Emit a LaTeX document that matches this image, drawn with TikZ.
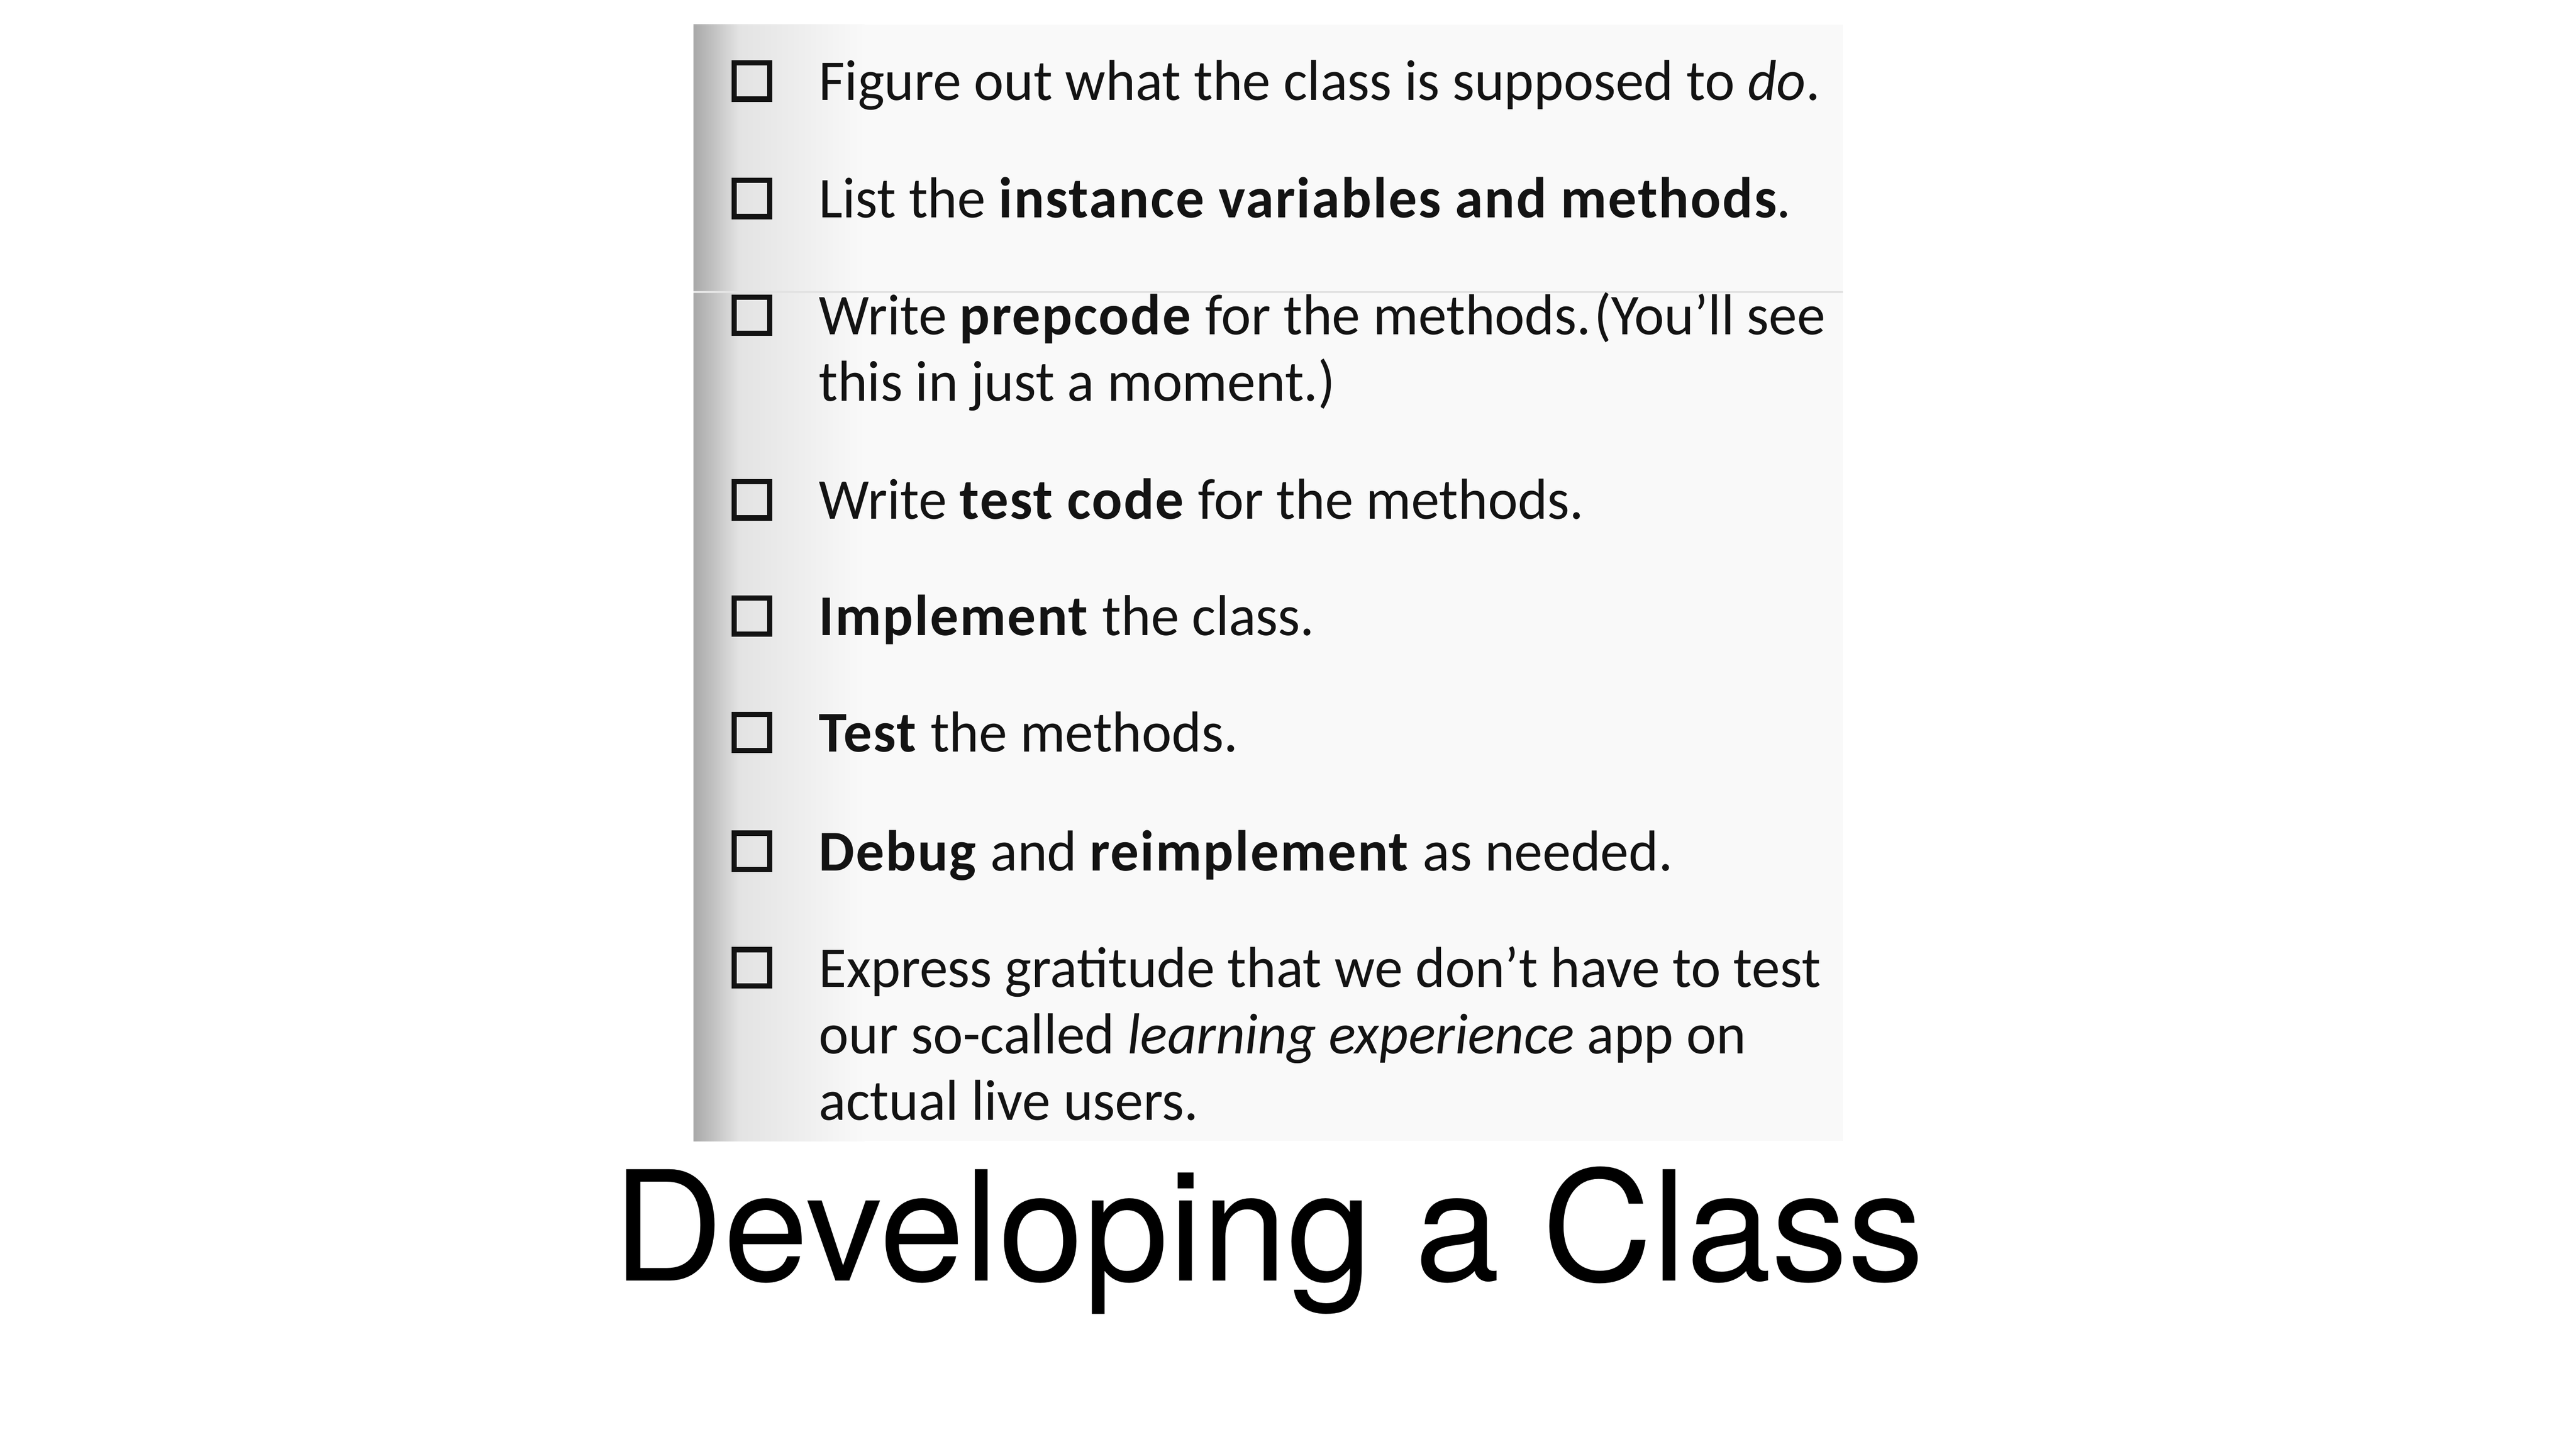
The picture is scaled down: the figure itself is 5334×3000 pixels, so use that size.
\documentclass[tikz,border=0pt]{standalone}
\usepackage{fontspec}
\setmainfont{Carlito}[BoldFeatures={LetterSpace=2.5}]
\newfontfamily\titlefont{TeX Gyre Heros}
\definecolor{scanbg}{HTML}{F9F9F9}
\definecolor{scanedge}{HTML}{A8A8A8}
\definecolor{ink}{HTML}{131313}

\begin{document}
\begin{tikzpicture}[x=0.01cm, y=-0.01cm,
  chk/.style={draw=ink, line width=1.1mm, minimum width=7.4mm, minimum height=7.5mm, inner sep=0pt},
  item/.style={anchor=base west, inner sep=0pt, text=ink, xscale=0.98, font=\fontsize{34}{40}\selectfont}]
% Lista escaneada de pasos y título debajo
\useasboundingbox (0,0) rectangle (5334,3000);
\fill[white] (0,0) rectangle (5334,3000);
\fill[scanbg] (1436,51) rectangle (3816,2363);
\shade[left color=scanedge, right color=gray!22] (1436,51) rectangle (1530,2363);
\shade[left color=gray!22, right color=scanbg] (1530,51) rectangle (1790,2363);
\draw[gray!22, line width=0.5mm] (1436,605) -- (3816,605);
\foreach \n/\y in {1/208,2/451,3/693,4/1075,5/1316,6/1557,7/1803,8/2044}
  \node[chk] (b\n) at (1557,\y-40) {};
\node[item] (t1) at (1695,208) {Figure out what the class is supposed to \textit{do}.};
\node[item] (t2) at (1695,451) {List the \textbf{instance variables and methods}.};
\node[item] (t3) at (1695,693) {Write \textbf{prepcode} for the methods.\kern2pt(You’ll see};
\node[item] (t3b) at (1695,831) {this in just a moment.)};
\node[item] (t4) at (1695,1075) {Write \textbf{test code} for the methods.};
\node[item] (t5) at (1695,1316) {\textbf{Implement} the class.};
\node[item] (t6) at (1695,1557) {\textbf{Test} the methods.};
\node[item] (t7) at (1695,1803) {\textbf{Debug} and \textbf{reimplement} as needed.};
\node[item] (t8) at (1695,2044) {Express gratitude that we don’t have to test};
\node[item] (t8b) at (1695,2182) {our so-called \textit{learning experience} app on};
\node[item] (t8c) at (1695,2320) {actual live users.};
\node[anchor=base, inner sep=0pt] (title) at (2627,2653) {\titlefont\fontsize{90}{100}\selectfont Developing a Class};
\end{tikzpicture}
\end{document}
